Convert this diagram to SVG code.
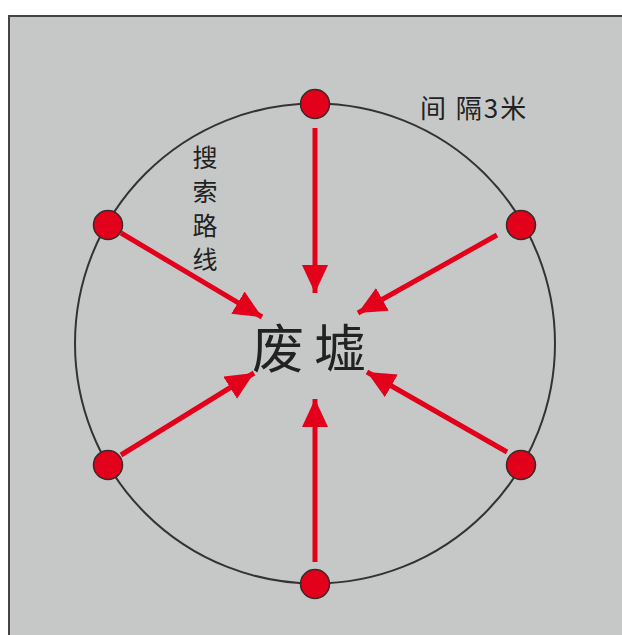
<svg xmlns="http://www.w3.org/2000/svg" width="622" height="635" viewBox="0 0 622 635">
<style>
.cjk{font-family:"Noto Sans CJK SC","Liberation Serif",serif;fill:#222}
.node{fill:#e2001a;stroke:#3a2a2a;stroke-width:1.5}
.conn{stroke:#e2001a;stroke-width:5;fill:none;marker-end:url(#ah)}
</style>
<defs>
<marker id="ah" markerUnits="userSpaceOnUse" markerWidth="30" markerHeight="28" refX="28" refY="13" orient="auto">
<path d="M0,0 L28,13 L0,26 Z" fill="#e2001a"/>
</marker>
</defs>
<rect x="0" y="0" width="622" height="635" fill="#ffffff"/>
<rect x="9" y="16" width="620" height="630" fill="#c6c8c7" stroke="#444" stroke-width="2"/>
<circle cx="315" cy="343.5" r="240" fill="none" stroke="#333" stroke-width="2"/>
<g id="connectors">
<line class="conn" x1="315" y1="128" x2="315" y2="293"/>
<line class="conn" x1="315" y1="562" x2="315" y2="399"/>
<line class="conn" x1="121" y1="233" x2="262" y2="317"/>
<line class="conn" x1="497" y1="235" x2="358" y2="313"/>
<line class="conn" x1="121" y1="455" x2="254" y2="373"/>
<line class="conn" x1="507" y1="452" x2="367" y2="372"/>
</g>
<g id="n-top"><circle class="node" cx="315" cy="104" r="14.5"/></g>
<g id="n-bottom"><circle class="node" cx="315" cy="584" r="14.5"/></g>
<g id="n-ul"><circle class="node" cx="108" cy="225" r="14.5"/></g>
<g id="n-ur"><circle class="node" cx="521" cy="225" r="14.5"/></g>
<g id="n-ll"><circle class="node" cx="108" cy="465" r="14.5"/></g>
<g id="n-lr"><circle class="node" cx="521" cy="465" r="14.5"/></g>
<g id="center"><text class="cjk" x="314" y="368" font-size="52" text-anchor="middle" letter-spacing="10">废墟</text></g>
<g id="label-spacing"><text class="cjk" x="420" y="118" font-size="26" letter-spacing="2">间 隔3米</text></g>
<g id="label-route" class="cjk" font-size="25" text-anchor="middle">
<text x="205" y="167">搜</text>
<text x="205" y="201">索</text>
<text x="205" y="235">路</text>
<text x="205" y="269">线</text>
</g>
</svg>
